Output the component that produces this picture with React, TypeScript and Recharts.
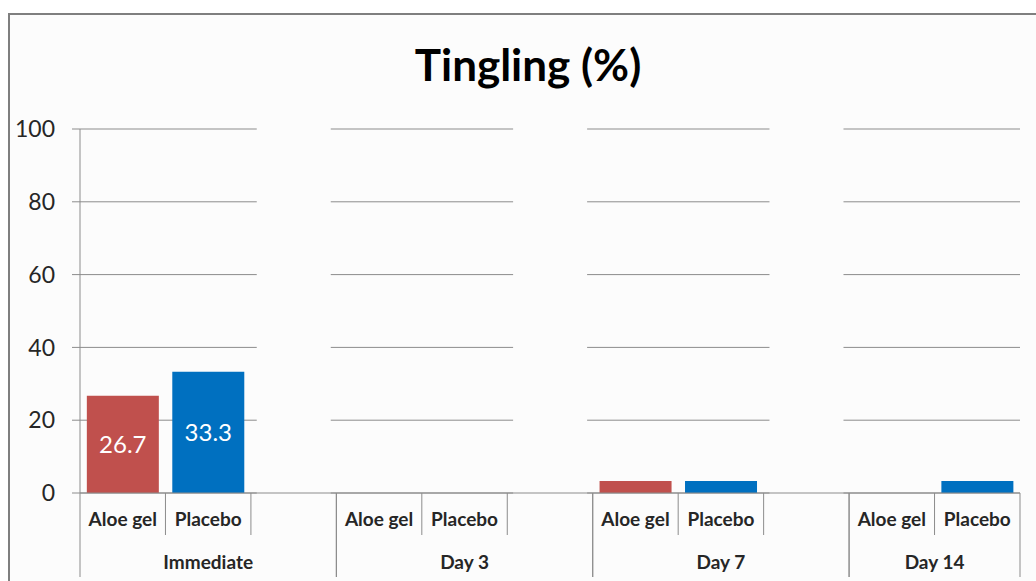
import { Bar, BarChart, CartesianGrid, Cell, LabelList, XAxis, YAxis } from "recharts";

const GROUPS = ["Immediate", "Day 3", "Day 7", "Day 14"];
const TREATMENTS = ["Aloe gel", "Placebo"];
const ALOE_GEL = [26.7, 0, 3.3, 0];
const PLACEBO = [33.3, 0, 3.3, 3.3];
const Y_TICKS = [0, 20, 40, 60, 80, 100];

const RED = "#c0504d";
const BLUE = "#0070c0";
const BG = "#fcfcfc";
const GRID = "#8c8c8c";
const FONT = "Lato, 'Open Sans', sans-serif";

const CHART_W = 1036;
const CHART_H = 581;
const MARGIN = { top: 129, right: 16, left: 0, bottom: 4 };
const Y_W = 80;
const X_H = 84;

// one slot per bar, plus an empty spacer slot between groups (like the Excel sheet)
type Slot = {
  key: string;
  label: string;
  group: string;
  groupStart: boolean;
  groupEnd: boolean;
  groupSize: number;
  value: number;
  mask: number;
  color: string;
};

const slots: Slot[] = [];
GROUPS.forEach((g, gi) => {
  const values = [ALOE_GEL[gi], PLACEBO[gi]];
  const hasSpacer = gi < GROUPS.length - 1;
  const size = hasSpacer ? 3 : 2;
  TREATMENTS.forEach((t, ti) => {
    slots.push({
      key: `${g}|${t}`,
      label: t,
      group: g,
      groupStart: ti === 0,
      groupEnd: !hasSpacer && ti === TREATMENTS.length - 1,
      groupSize: size,
      value: values[ti],
      mask: 0,
      color: ti === 0 ? RED : BLUE,
    });
  });
  if (hasSpacer) {
    slots.push({
      key: `${g}|spacer`,
      label: "",
      group: g,
      groupStart: false,
      groupEnd: true,
      groupSize: size,
      value: 0,
      mask: 100,
      color: BG,
    });
  }
});

const SLOT_W = (CHART_W - MARGIN.left - MARGIN.right - Y_W) / slots.length;

function CategoryTick(props: any) {
  const { x, y, index } = props;
  const s = slots[index];
  if (!s) return null;
  const half = SLOT_W / 2;
  const groupCenter = x - half + (s.groupSize * SLOT_W) / 2;
  return (
    <g>
      {s.groupStart && (
        <line x1={x - half} x2={x - half} y1={y} y2={y + X_H} stroke={GRID} strokeWidth={1} />
      )}
      <line
        x1={x + half}
        x2={x + half}
        y1={y}
        y2={y + (s.groupEnd ? X_H : 42)}
        stroke={GRID}
        strokeWidth={1}
      />
      {s.label && (
        <text x={x} y={y + 33} textAnchor="middle" fontFamily={FONT} fontSize={19} fontWeight={700} fill="#262626">
          {s.label}
        </text>
      )}
      {s.groupStart && (
        <text x={groupCenter} y={y + 76} textAnchor="middle" fontFamily={FONT} fontSize={19} fontWeight={700} fill="#262626">
          {s.group}
        </text>
      )}
    </g>
  );
}

function ValueLabel(props: any) {
  const { x, y, width, height, value } = props;
  if (!value || value < 10) return null;
  return (
    <text
      x={x + width / 2}
      y={y + height / 2 + 9}
      textAnchor="middle"
      fontFamily={FONT}
      fontSize={24}
      fill="#ffffff"
    >
      {value}
    </text>
  );
}

export default function App() {
  return (
    <div style={{ position: "absolute", left: 0, top: 0, width: CHART_W, height: CHART_H, background: "#ffffff", overflow: "hidden" }}>
      <div
        style={{
          position: "absolute",
          left: 8,
          top: 13,
          width: 1100,
          height: 600,
          border: "2px solid #7f7f7f",
          background: BG,
        }}
      />
      <div
        style={{
          position: "absolute",
          left: 0,
          top: 38,
          width: 1056,
          textAlign: "center",
          fontFamily: FONT,
          fontWeight: 700,
          fontSize: 44,
          color: "#000000",
        }}
      >
        Tingling (%)
      </div>
      <div style={{ position: "absolute", left: 0, top: 0 }}>
        <BarChart width={CHART_W} height={CHART_H} data={slots} margin={MARGIN} barCategoryGap="8%">
          <CartesianGrid horizontal vertical={false} stroke={GRID} />
          <YAxis
            width={Y_W}
            domain={[0, 100]}
            ticks={Y_TICKS}
            interval={0}
            axisLine={{ stroke: GRID }}
            tickLine={{ stroke: GRID }}
            tickSize={8}
            tickMargin={17}
            tick={{ fontFamily: FONT, fontSize: 23, fill: "#262626" }}
          />
          <XAxis
            dataKey="key"
            height={X_H}
            interval={0}
            axisLine={{ stroke: GRID }}
            tickLine={false}
            tickSize={0}
            tickMargin={0}
            tick={<CategoryTick />}
          />
          <Bar dataKey="mask" stackId="a" fill={BG} stroke={BG} strokeWidth={2} isAnimationActive={false} />
          <Bar dataKey="value" stackId="a" isAnimationActive={false}>
            {slots.map((s) => (
              <Cell key={s.key} fill={s.color} />
            ))}
            <LabelList dataKey="value" content={<ValueLabel />} />
          </Bar>
        </BarChart>
      </div>
    </div>
  );
}
